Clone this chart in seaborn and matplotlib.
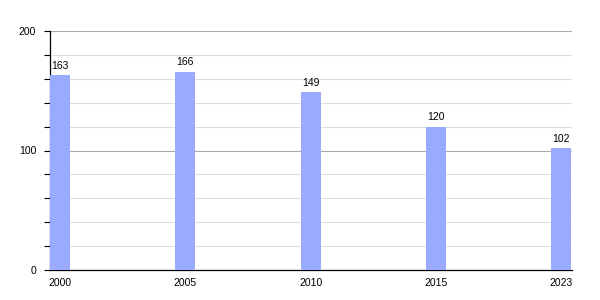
import matplotlib
matplotlib.use("Agg")
import matplotlib.pyplot as plt
import seaborn as sns
import pandas as pd
from matplotlib.ticker import MultipleLocator

years = ["2000", "2005", "2010", "2015", "2023"]
values = [163, 166, 149, 120, 102]

sns.set_style("white")
plt.rcParams['font.family'] = ['Liberation Sans', 'DejaVu Sans']
plt.rcParams['text.color'] = 'black'
plt.rcParams['xtick.color'] = 'black'
plt.rcParams['ytick.color'] = 'black'

df = pd.DataFrame({"year": years, "value": values})

fig = plt.figure(figsize=(6, 3), dpi=100)
ax = fig.add_axes([50/600, 30/300, 522/600, 239/300])

sns.barplot(data=df, x="year", y="value", color="#99aaff", saturation=1,
            width=0.16, ax=ax, zorder=3, linewidth=0, edgecolor="none")

ax.set_xlim(-0.08, 4.085)
ax.set_ylim(0, 200)
ax.yaxis.set_major_locator(MultipleLocator(100))
ax.yaxis.set_minor_locator(MultipleLocator(20))
ax.grid(which="minor", axis="y", color="#dddddd", linewidth=0.8, zorder=0)
ax.grid(which="major", axis="y", color="#aaaaaa", linewidth=0.8, zorder=0)
ax.set_axisbelow(True)
ax.tick_params(axis="y", which="both", left=True, length=4, width=0.8,
               color="black", labelcolor="black", labelsize=7.5, pad=6)
ax.tick_params(axis="x", bottom=False, labelcolor="black", labelsize=7.5, pad=2)
ax.set_xlabel("")
ax.set_ylabel("")
for s in ["top", "right"]:
    ax.spines[s].set_visible(False)
for s in ["left", "bottom"]:
    ax.spines[s].set_color("black")
    ax.spines[s].set_linewidth(0.9)

for i, v in enumerate(values):
    ax.annotate(str(v), (i, v), xytext=(0, 3), textcoords="offset points",
                ha="center", va="bottom", fontsize=7.5, color="black")

fig.savefig("out.png", dpi=100)
